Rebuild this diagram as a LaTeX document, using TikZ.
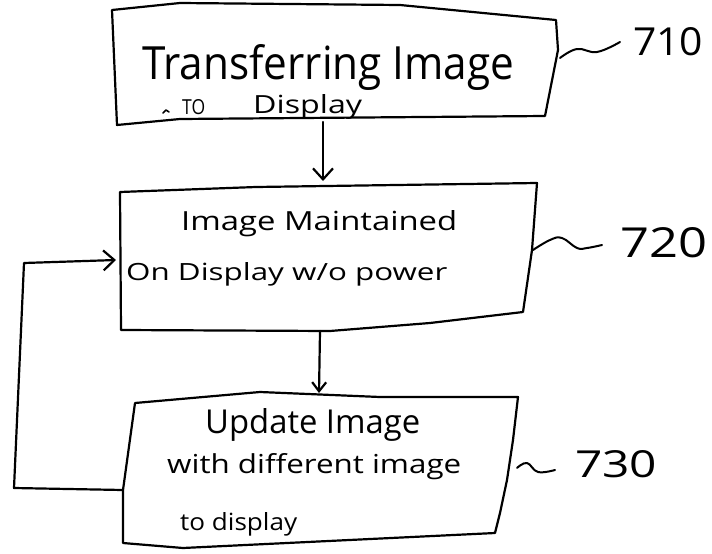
\documentclass[tikz,border=0pt]{standalone}
\usepackage{graphicx}
\usepackage{fontspec}
\setmainfont{Open Sans}
\usetikzlibrary{arrows.meta}
\tikzset{
  ink/.style={line width=2.2pt, line join=round, line cap=round},
  flow/.style={ink, -{Straight Barb[length=11pt,width=20pt,line width=2.2pt]}},
  flowsmall/.style={ink, -{Straight Barb[length=9pt,width=14pt,line width=2.2pt]}},
  txt/.style={inner sep=0pt, anchor=base west},
  squiggle/.style={ink, line width=2pt},
}
% scale a line of lettering to a given width and height (pt)
\newcommand{\whline}[3]{\resizebox{#1pt}{#2pt}{#3}}
\begin{document}
\begin{tikzpicture}[x=1pt,y=-1pt]
\useasboundingbox (0,0) rectangle (712,554);

% ---- step 710 ----
\draw[ink] (112,10) -- (180,3) -- (400,5) -- (556,20) -- (558,50) -- (545,116)
  -- (180,119) -- (117,125) -- cycle;
\node[txt] (t1a) at (142,79) {\whline{372}{35}{Transferring Image}};
\node[txt] (t1b) at (182,114) {\whline{23}{15}{TO}};
\node[txt] (t1c) at (253,113) {\whline{109}{19}{Display}};
\draw[ink, line width=1.6pt] (163,113) -- (166,110) -- (169,112);

% ---- step 720 ----
\draw[ink] (120,192) -- (256,187) -- (537,183) -- (532,250) -- (523,312)
  -- (430,323) -- (330,331) -- (121,330) -- cycle;
\node[txt] (t2a) at (181,230) {\whline{276}{20}{Image Maintained}};
\node[txt] (t2b) at (126,280) {\whline{321}{18}{On Display w/o power}};

% ---- step 730 ----
\draw[ink] (135,403) -- (260,392) -- (380,397) -- (518,397) -- (513,440)
  -- (507,480) -- (500,513) -- (495,533) -- (183,548) -- (123,543)
  -- (123,490) -- cycle;
\node[txt] (t3a) at (205,433) {\whline{215}{25}{Update Image}};
\node[txt] (t3b) at (167,473) {\whline{294}{20}{with different image}};
\node[txt] (t3c) at (180,530) {\whline{117}{18}{to display}};

% ---- connection points ----
\coordinate (b1s) at (323,122);
\coordinate (b2n) at (323,181);
\coordinate (b2s) at (320,331);
\coordinate (b3n) at (319,393);
\coordinate (b3w) at (123,490);
\coordinate (b2w) at (116,260);
\coordinate (lpb) at (14,488);
\coordinate (lpt) at (24,263);

% ---- flow arrows ----
\draw[flow] (b1s) -- (b2n);
\draw[flowsmall] (b2s) -- (b3n);
\draw[flow] (b3w) -- (lpb) -- (lpt) -- (b2w);

% ---- reference numerals ----
\node[txt] (n710) at (633,55) {\whline{70}{28}{710}};
\node[txt] (n720) at (620,257) {\whline{87}{30}{720}};
\node[txt] (n730) at (575,477) {\whline{82}{27}{730}};

\coordinate (s1a) at (560,58);
\coordinate (s1b) at (620,42);
\coordinate (s2a) at (533,250);
\coordinate (s2b) at (602,245);
\coordinate (s3a) at (517,468);
\coordinate (s3b) at (555,470);
\draw[squiggle] plot[smooth, tension=0.7] coordinates {(s1a) (577,49) (597,52) (s1b)};
\draw[squiggle] plot[smooth, tension=0.7] coordinates {(s2a) (550,240) (562,238) (577,248) (587,248) (s2b)};
\draw[squiggle] plot[smooth, tension=0.7] coordinates {(s3a) (527,463) (538,472) (s3b)};
\end{tikzpicture}
\end{document}
